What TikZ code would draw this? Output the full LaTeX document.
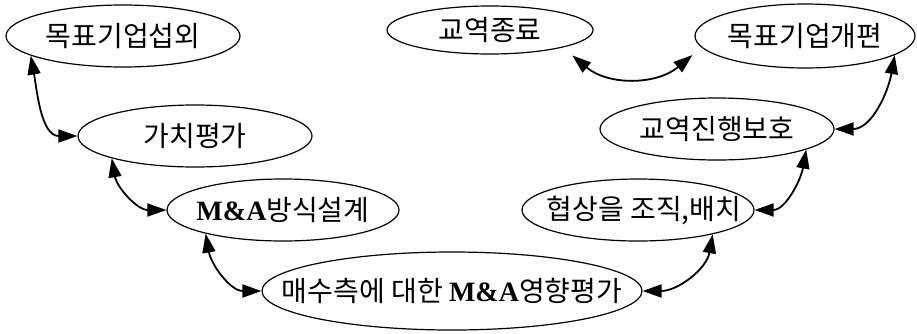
\documentclass[tikz,border=0pt]{standalone}
\usepackage{fontspec}
\setmainfont{Liberation Serif}
\newfontfamily\kr{Noto Sans CJK KR}
\usetikzlibrary{shapes.geometric,arrows.meta,calc}
\begin{document}
\begin{tikzpicture}[x=1pt,y=1pt,
  oval/.style={ellipse, draw, line width=1.2pt, inner sep=0pt, font=\kr\fontsize{28}{32}\selectfont},
  link/.style={line width=1.8pt, arrows={Triangle[length=19pt,width=13pt]-Triangle[length=19pt,width=13pt]}}]
\useasboundingbox (0,0) rectangle (917,-333);
\node[oval, minimum width=234pt, minimum height=62pt] (n1) at (123,-36) {\makebox[0pt]{목표기업섭외}};
\node[oval, minimum width=234pt, minimum height=62pt] (n2) at (195,-136) {\makebox[0pt]{가치평가}};
\node[oval, minimum width=206pt, minimum height=48pt] (n3) at (490,-30) {\makebox[0pt]{교역종료}};
\node[oval, minimum width=220pt, minimum height=64pt] (n4) at (805,-36) {\makebox[0pt]{목표기업개편}};
\node[oval, minimum width=234pt, minimum height=62pt] (n5) at (717,-129) {\makebox[0pt]{교역진행보호}};
\node[oval, minimum width=232pt, minimum height=62pt] (n6) at (283,-210) {\makebox[0pt]{{\rmfamily\bfseries M\&A}방식설계}};
\node[oval, minimum width=232pt, minimum height=62pt] (n7) at (638,-210) {\makebox[0pt]{\hspace{12pt}협상을 조직,배치}};
\node[oval, minimum width=380pt, minimum height=78pt] (n8) at (452,-291) {\makebox[0pt]{매수측에 대한 {\rmfamily\bfseries M\&A}영향평가}};
\draw[link] (n1.192) to[out=-80,in=180] (n2.west);
\draw[link] (n2.195) to[out=-80,in=180] (n6.west);
\draw[link] (n6.197) to[out=-80,in=180] (n8.west);
\draw[link] (n8.east) to[out=0,in=-100] (n7.342);
\draw[link] (n7.east) to[out=0,in=-100] (n5.347);
\draw[link] (n5.east) to[out=0,in=-100] (n4.348);
\draw[link] ($(n3.south east)+(9,-8)$) to[out=-40,in=-140] ($(n4.west)+(-2,-19)$);
\end{tikzpicture}
\end{document}
